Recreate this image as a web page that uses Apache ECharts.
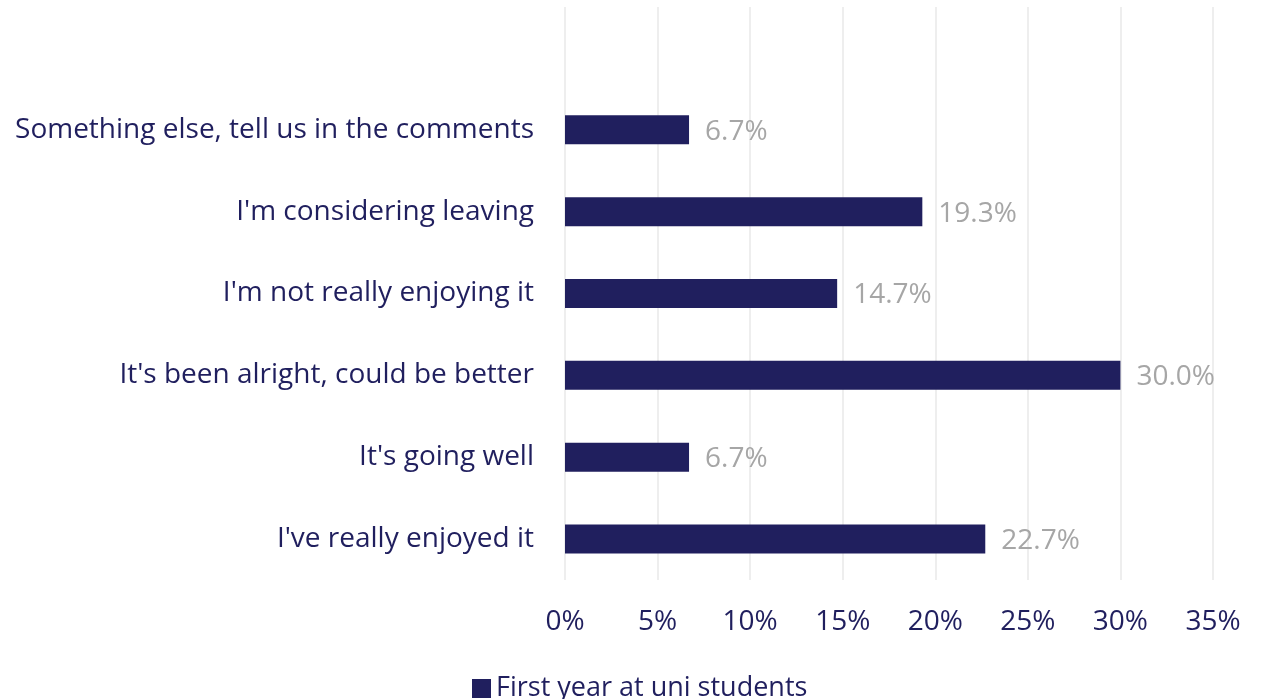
<!DOCTYPE html>
<html>
<head>
<meta charset="utf-8">
<script src="https://cdn.jsdelivr.net/npm/echarts@6/dist/echarts.min.js"></script>
<style>html,body{margin:0;padding:0;background:#fff}#c{width:1266px;height:699px}</style>
</head>
<body>
<div id="c"></div>
<script>
const categories = ["I've really enjoyed it", "It's going well", "It's been alright, could be better", "I'm not really enjoying it", "I'm considering leaving", "Something else, tell us in the comments", ""];
const values = [22.7, 6.7, 30.0, 14.7, 19.3, 6.7, null];
const seriesName = "First year at uni students";
const xTicks = { min: 0, max: 35, interval: 5 };

const navy = '#201F5E';
const font = 'Open Sans';
const fs = 28;
const chart = echarts.init(document.getElementById('c'));
chart.setOption({
  animation: false,
  grid: { left: 565, right: 53, top: 7, bottom: 119 },
  legend: {
    data: [seriesName],
    left: 467, top: 670,
    icon: 'rect', itemWidth: 19, itemHeight: 19, itemGap: 6,
    textStyle: { fontFamily: font, fontSize: 27, color: navy }
  },
  xAxis: {
    type: 'value', min: xTicks.min, max: xTicks.max, interval: xTicks.interval,
    axisLine: { show: false }, axisTick: { show: false },
    splitLine: { lineStyle: { color: '#E8E8E8', width: 1.5 } },
    axisLabel: { formatter: v => v + '%', margin: 28, fontFamily: font, fontSize: fs, color: navy }
  },
  yAxis: {
    type: 'category', data: categories,
    axisLine: { show: false }, axisTick: { show: false },
    axisLabel: { margin: 31, fontFamily: font, fontSize: fs, color: navy, padding: [4, 0, 0, 0] }
  },
  series: [{
    name: seriesName, type: 'bar', data: values, barWidth: 29,
    itemStyle: { color: navy },
    label: { show: true, position: 'right', distance: 16, offset: [0, 2], formatter: p => p.value.toFixed(1) + '%', fontFamily: font, fontSize: fs, color: '#A6A6A6' }
  }]
});
</script>
</body>
</html>
